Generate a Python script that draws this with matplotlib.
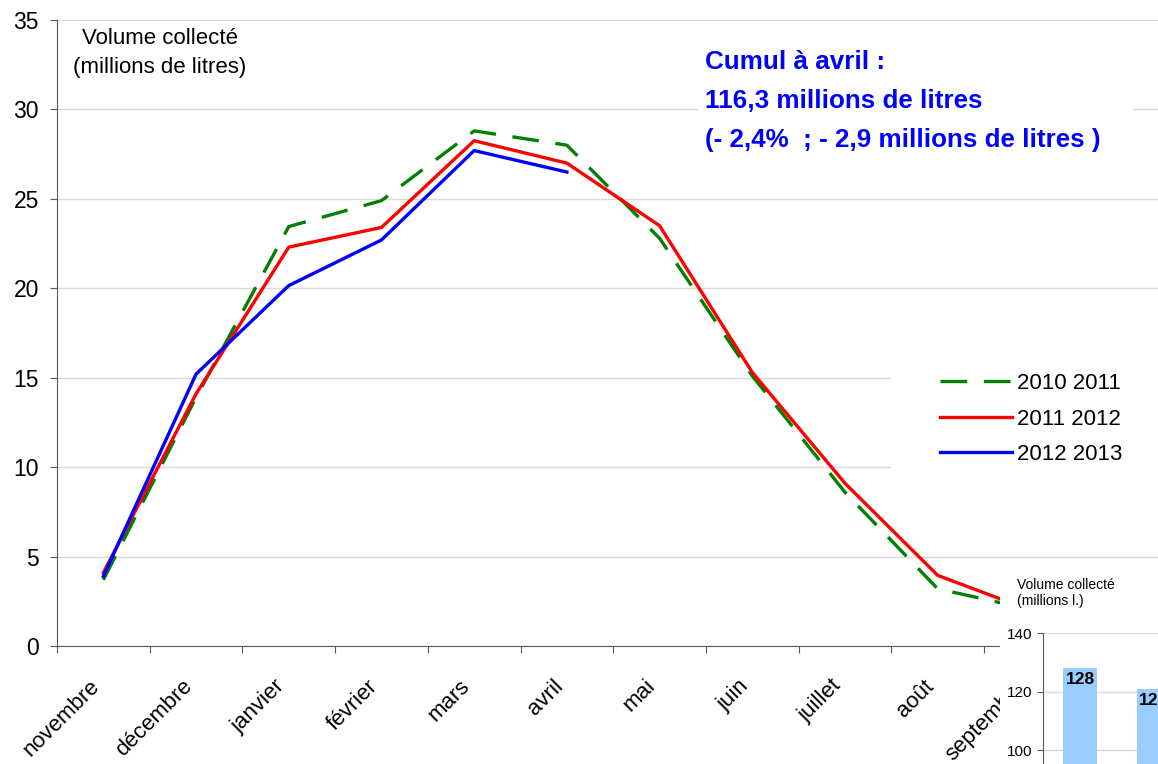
import matplotlib
matplotlib.use('Agg')
from matplotlib import pyplot as plt
from matplotlib.patches import Rectangle
from matplotlib.transforms import ScaledTranslation

plt.rcParams['font.family'] = ['Liberation Sans', 'DejaVu Sans']

W, H = 1158, 764

months = ['novembre', 'décembre', 'janvier', 'février', 'mars', 'avril',
          'mai', 'juin', 'juillet', 'août', 'septembre']
vol_2010_2011 = [3.7, 13.9, 23.45, 24.9, 28.8, 28.0, 22.8, 15.1, 8.6, 3.2, 2.05]
vol_2011_2012 = [4.1, 14.1, 22.3, 23.4, 28.25, 27.0, 23.5, 15.3, 9.1, 3.95, 2.0]
vol_2012_2013 = [3.9, 15.2, 20.15, 22.7, 27.7, 26.5]

cumul_values = [128, 121]


def fx(x):
    return x / W


def fy(y):
    return 1 - y / H


fig = plt.figure(figsize=(W / 100, H / 100), dpi=100)
fig.patch.set_facecolor('white')

# main chart: 12 category slots of ~92.7 px, axis at x=57
slot = 92.7
ax = fig.add_axes([fx(57), fy(646), 12 * slot / W, (646 - 20) / H])
x = list(range(len(months)))
ax.plot(x, vol_2010_2011, color='#008000', lw=2.4, ls=(0, (8, 5)), label='2010 2011')
ax.plot(x, vol_2011_2012, color='#ff0000', lw=2.4, label='2011 2012')
ax.plot(range(len(vol_2012_2013)), vol_2012_2013, color='#0000ff', lw=2.4, label='2012 2013')

ax.set_xlim(-0.5, 11.5)
ax.set_ylim(0, 35)
ax.set_yticks(range(0, 36, 5))
ax.yaxis.grid(True, color='#d9d9d9', lw=1)
ax.set_axisbelow(True)
for s in ['top', 'right']:
    ax.spines[s].set_visible(False)
for s in ['left', 'bottom']:
    ax.spines[s].set_color('#595959')
ax.tick_params(axis='y', direction='out', length=5, color='#595959', labelsize=16.5, pad=8)
ax.set_xticks([i - 0.5 for i in range(13)])
ax.set_xticklabels([])
ax.tick_params(axis='x', direction='out', length=5, color='#595959')

# month labels, rotated, ending just left of the category centre
lab_tr = ax.get_xaxis_transform() + ScaledTranslation(-0.07, -0.37, fig.dpi_scale_trans)
for i, m in enumerate(months):
    ax.text(i, 0, m, transform=lab_tr, rotation=45, rotation_mode='anchor',
            ha='right', va='center', fontsize=16, clip_on=False)

leg = ax.legend(loc='upper left', bbox_to_anchor=(fx(891), fy(324)), bbox_transform=fig.transFigure,
                fontsize=16, handlelength=3.25, handletextpad=0.2, labelspacing=0.66,
                borderpad=2.2, borderaxespad=0, fancybox=False, framealpha=1, facecolor='white')
leg.get_frame().set_linewidth(0)

fig.text(fx(160), fy(38), 'Volume collecté', fontsize=16, ha='center', va='center')
fig.text(fx(160), fy(68), '(millions de litres)', fontsize=16, ha='center', va='center')

# white text box over the gridline
fig.add_artist(Rectangle((fx(698), fy(190)), fx(1133 - 698), (190 - 30) / H,
                         transform=fig.transFigure, facecolor='white', edgecolor='none', zorder=1))
for yy, line in zip([69, 108, 147], ['Cumul à avril :', '116,3 millions de litres',
                                     '(- 2,4%  ; - 2,9 millions de litres )']):
    fig.text(fx(705), fy(yy), line, fontsize=18.7, fontweight='bold', color='#0000ff',
             ha='left', va='baseline', zorder=3)

# inset bar chart (partly outside the picture)
fig.add_artist(Rectangle((fx(1000), 0), 1, fy(566), transform=fig.transFigure,
                         facecolor='white', edgecolor='none', zorder=1))
unit = 58.5 / 20
ax2 = fig.add_axes([fx(1043), fy(633 + 140 * unit), 3 * 74 / W, 140 * unit / H], zorder=2)
ax2.set_facecolor('none')
ax2.bar(range(len(cumul_values)), cumul_values, width=0.46, color='#99ccff')
for i, v in enumerate(cumul_values):
    ax2.text(i, v - 1.5, str(v), ha='center', va='top', fontsize=12.5, fontweight='bold')
ax2.set_xlim(-0.5, 2.5)
ax2.set_ylim(0, 140)
ax2.set_yticks(range(0, 141, 20))
ax2.set_xticks([])
ax2.yaxis.grid(True, color='#d9d9d9', lw=1)
ax2.set_axisbelow(True)
for s in ['top', 'right', 'bottom']:
    ax2.spines[s].set_visible(False)
ax2.spines['left'].set_color('#595959')
ax2.tick_params(axis='y', direction='out', length=4, color='#595959', labelsize=11, pad=4)
fig.text(fx(1017), fy(578), 'Volume collecté\n(millions l.)', fontsize=10, ha='left', va='top', zorder=3)

fig.savefig('out.png', dpi=100)
